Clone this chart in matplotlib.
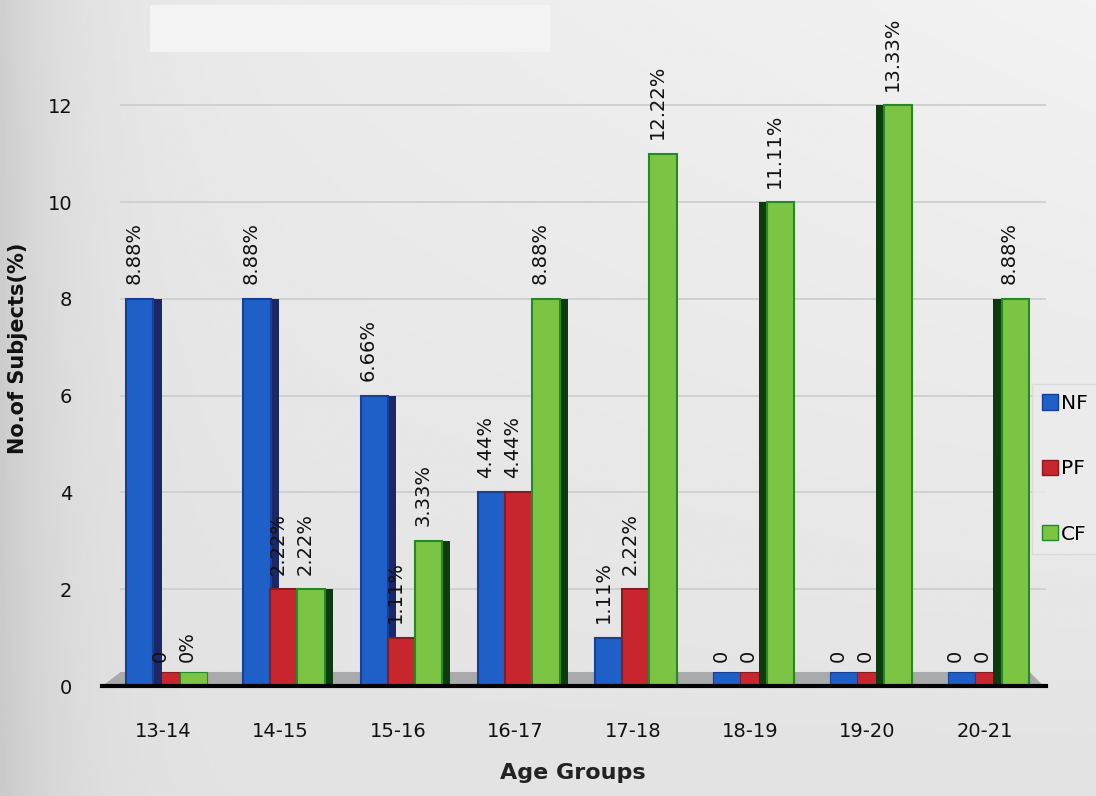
import matplotlib
matplotlib.use("Agg")
import matplotlib.pyplot as plt
import numpy as np
from matplotlib.patches import Patch, Polygon

# data
groups = ["13-14", "14-15", "15-16", "16-17", "17-18", "18-19", "19-20", "20-21"]
nf = [8, 8, 6, 4, 1, 0, 0, 0]
pf = [0, 2, 1, 4, 2, 0, 0, 0]
cf = [0, 2, 3, 8, 11, 10, 12, 8]
nf_labels = ["8.88%", "8.88%", "6.66%", "4.44%", "1.11%", "0", "0", "0"]
pf_labels = ["0", "2.22%", "1.11%", "4.44%", "2.22%", "0", "0", "0"]
cf_labels = ["0%", "2.22%", "3.33%", "8.88%", "12.22%", "11.11%", "13.33%", "8.88%"]

series = [
    ("NF", nf, nf_labels, "#1f5fc8", "#173f95", "#1b2766", -0.20),
    ("PF", pf, pf_labels, "#c8262f", "#8a1a20", "#661216", 0.03),
    ("CF", cf, cf_labels, "#7cc444", "#238a26", "#0e3a10", 0.26),
]

W, H = 1096, 796
fig = plt.figure(figsize=(W / 100, H / 100), dpi=100)

# soft grey background
bg = fig.add_axes([0, 0, 1, 1], zorder=-10)
gx = np.linspace(0, 1, 300)
gy = np.linspace(0, 1, 300)
X, Y = np.meshgrid(gx, gy)
shade = 0.91 - 0.10 * np.exp(-X / 0.06) + 0.04 * Y * X - 0.02 * (1 - Y)
bg.imshow(shade, cmap="gray", vmin=0, vmax=1, extent=[0, 1, 0, 1],
          origin="lower", aspect="auto")
bg.add_patch(plt.Rectangle((150 / W, 1 - 52 / H), 400 / W, 47 / H,
                           color="#f3f3f3", lw=0))
bg.set_xlim(0, 1)
bg.set_ylim(0, 1)
bg.axis("off")

ax = fig.add_axes([100 / W, 110 / H, 946 / W, 676 / H])
ax.patch.set_alpha(0)
x = np.arange(len(groups))
w = 0.235
floor = 0.29

ax.set_xlim(-0.537, 7.52)
ax.set_ylim(0, 13.97)

# gridlines and floor
ax.hlines([2, 4, 6, 8, 10, 12], -0.37, 7.52, color="#cdcfcf", lw=1.3, zorder=1)
ax.add_patch(Polygon([(-0.52, 0), (7.5, 0), (7.38, floor), (-0.36, floor)],
                     closed=True, color="#a8aaab", lw=0, zorder=1))
ax.plot([-0.52, 7.52], [0, 0], color="black", lw=3, zorder=5, clip_on=False)

# which way the dark side of each bar shows (right on the left, left on the right)
sgn = -np.sign(x - 4)

for name, vals, labels, face, edge, side, off in series:
    pos = x + off
    # footprint on the floor
    ax.bar(pos, [floor] * len(vals), w, color=face, edgecolor=edge, lw=0.8, zorder=1.5)
    ax.bar(pos + sgn * (w / 2 + 0.035), vals, 0.07, color=side, lw=0, zorder=2)
    ax.bar(pos, vals, w, color=face, edgecolor=edge, lw=1.5, zorder=3, label=name)
    for px, v, t in zip(pos, vals, labels):
        ty = v + 0.3 if v > 0 else 0.5
        ax.text(px - 0.05, ty, t, rotation=90, ha="center", va="bottom",
                fontsize=14, color="#111111", zorder=6, clip_on=False)

for s in ax.spines.values():
    s.set_visible(False)
ax.set_xticks(x)
ax.set_xticklabels(groups)
ax.set_yticks([0, 2, 4, 6, 8, 10, 12])
ax.tick_params(axis="both", length=0, labelsize=14, labelcolor="#111111")
ax.tick_params(axis="x", pad=26)
ax.tick_params(axis="y", pad=20)
ax.set_xlabel("Age Groups", fontsize=16, fontweight="bold", color="#222222", labelpad=16)
ax.set_ylabel("No.of Subjects(%)", fontsize=15, fontweight="bold", color="#111111", labelpad=14)

handles = [Patch(facecolor=s[3], edgecolor=s[4], label=s[0]) for s in series]
fig.legend(handles=handles, loc="upper left", bbox_to_anchor=(1032 / W, 1 - 384 / H),
           frameon=True, facecolor="#ececec", edgecolor="#d8d8d8", fontsize=14.5,
           labelspacing=2.3, handlelength=0.8, handleheight=0.8, handletextpad=0.15,
           borderpad=0.5, borderaxespad=0, fancybox=False)

fig.savefig("out.png", dpi=100)
